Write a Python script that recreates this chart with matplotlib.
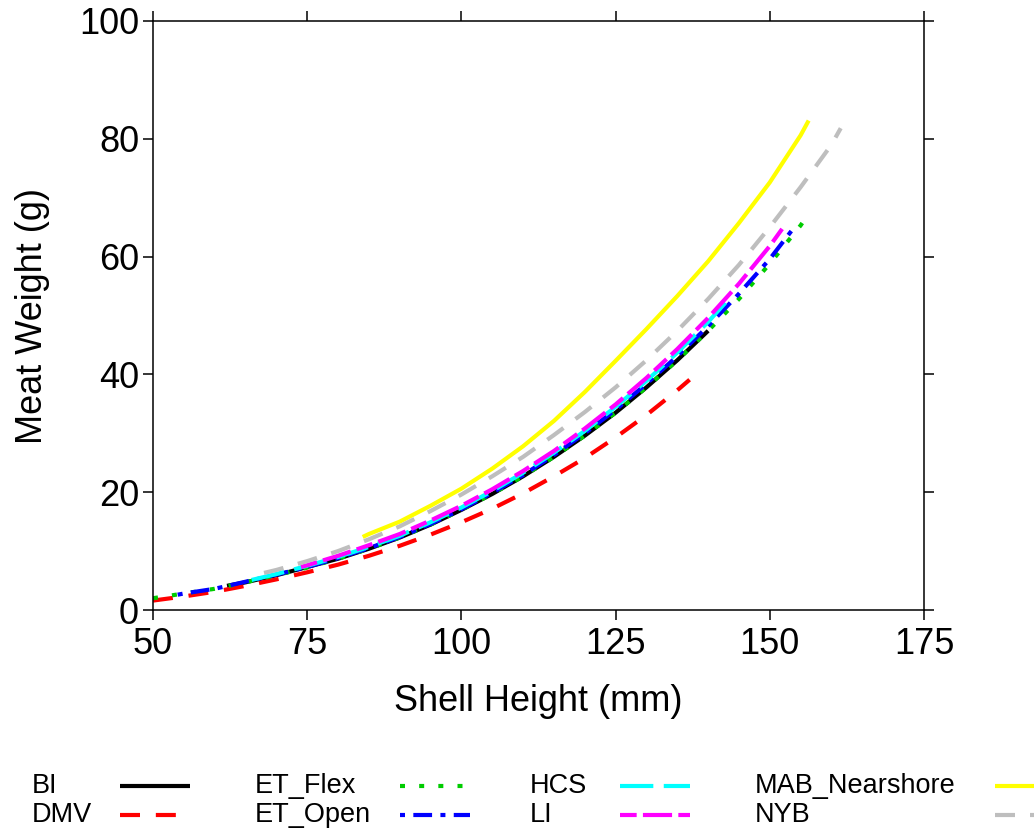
import matplotlib
matplotlib.use("Agg")
import matplotlib.pyplot as plt
from matplotlib.lines import Line2D

plt.rcParams['font.family'] = ['Liberation Sans', 'DejaVu Sans']

# Shell height (mm) / meat weight (g) curves by region
bi_h = [62, 65, 70, 75, 80, 85, 90, 95, 100, 105, 110, 115, 120, 125, 130, 135, 140]
bi_w = [4.1, 4.7, 5.9, 7.3, 8.7, 10.4, 12.3, 14.5, 17.0, 19.7, 22.7, 26.0, 29.6, 33.5, 37.8, 42.4, 47.4]

dmv_h = [50, 55, 60, 65, 70, 75, 80, 85, 90, 95, 100, 105, 110, 115, 120, 125, 130, 135, 137]
dmv_w = [1.6, 2.3, 3.1, 4.1, 5.2, 6.4, 7.7, 9.2, 10.9, 12.8, 14.9, 17.2, 19.8, 22.7, 25.8, 29.3, 33.1, 37.3, 39.1]

etf_h = [50, 55, 60, 65, 70, 75, 80, 85, 90, 95, 100, 105, 110, 115, 120, 125, 130, 135, 140, 145, 150, 155, 156.5]
etf_w = [2.0, 2.8, 3.6, 4.7, 5.9, 7.2, 8.7, 10.4, 12.3, 14.5, 17.0, 19.7, 22.7, 26.0, 29.6, 33.5, 37.8, 42.4, 47.4, 52.8, 58.8, 65.3, 67.6]

eto_h = [54, 55, 60, 65, 70, 75, 80, 85, 90, 95, 100, 105, 110, 115, 120, 125, 130, 135, 140, 145, 150, 154.2]
eto_w = [2.6, 2.8, 3.6, 4.8, 6.0, 7.3, 8.8, 10.5, 12.4, 14.6, 17.1, 19.9, 22.9, 26.3, 30.0, 34.0, 38.4, 43.1, 48.2, 53.7, 59.6, 65.3]

hcs_h = [66, 70, 75, 80, 85, 90, 95, 100, 105, 110, 115, 120, 125, 130, 135, 140, 143]
hcs_w = [5.1, 6.1, 7.5, 9.0, 10.7, 12.6, 14.9, 17.4, 20.2, 23.3, 26.7, 30.4, 34.5, 38.9, 43.7, 48.9, 52.4]

li_h = [74, 75, 80, 85, 90, 95, 100, 105, 110, 115, 120, 125, 130, 135, 140, 145, 150, 152]
li_w = [7.3, 7.6, 9.2, 11.0, 12.9, 15.2, 17.7, 20.5, 23.6, 27.0, 30.8, 34.9, 39.4, 44.3, 49.6, 55.4, 61.8, 64.7]

mab_h = [84, 85, 90, 95, 100, 105, 110, 115, 120, 125, 130, 135, 140, 145, 150, 155, 156.3]
mab_w = [12.4, 12.9, 15.0, 17.7, 20.6, 24.0, 27.8, 32.1, 37.0, 42.3, 47.7, 53.3, 59.2, 65.7, 72.6, 80.6, 83.1]

nyb_h = [68, 70, 75, 80, 85, 90, 95, 100, 105, 110, 115, 120, 125, 130, 135, 140, 145, 150, 155, 160, 161.5]
nyb_w = [6.3, 6.8, 8.3, 10.0, 12.0, 14.2, 16.8, 19.6, 22.7, 26.0, 29.7, 33.6, 37.8, 42.4, 47.4, 52.8, 58.6, 65.0, 71.8, 79.0, 81.8]

series = [
    ("BI", bi_h, bi_w, "black", None),
    ("DMV", dmv_h, dmv_w, "red", (4.8, 3.8)),
    ("ET_Flex", etf_h, etf_w, "#00cc00", (1.2, 3.4)),
    ("ET_Open", eto_h, eto_w, "blue", (1.2, 2.0, 4.5, 2.0)),
    ("HCS", hcs_h, hcs_w, "cyan", (8.0, 2.5)),
    ("LI", li_h, li_w, "magenta", (4.0, 1.5, 7.0, 1.5)),
    ("MAB_Nearshore", mab_h, mab_w, "yellow", None),
    ("NYB", nyb_h, nyb_w, "#bebebe", (4.8, 3.6)),
]

fig = plt.figure(figsize=(10.34, 8.36), dpi=100)
ax = fig.add_axes([153 / 1034, 226 / 836, 771 / 1034, 589 / 836])

for name, h, w, col, dash in series:
    ln, = ax.plot(h, w, color=col, lw=3, solid_capstyle='butt', dash_capstyle='butt')
    if dash is not None:
        ln.set_dashes(dash)

ax.set_xlim(50, 175)
ax.set_ylim(0, 100)
ax.set_xticks([50, 75, 100, 125, 150, 175])
ax.set_yticks([0, 20, 40, 60, 80, 100])
ax.tick_params(direction='out', length=7, width=1.1, labelsize=26,
               top=True, right=True, pad=3)
ax.tick_params(axis='x', pad=5)
for sp in ax.spines.values():
    sp.set_linewidth(1.1)

ax.set_xlabel("Shell Height (mm)", fontsize=26, labelpad=16)
ax.set_ylabel("Meat Weight (g)", fontsize=26, labelpad=21)

# legend below the plot, text first then line sample
col_text_x = [32, 255, 530, 755]
col_line_x = [120, 400, 620, 995]
row_y = [786, 815]
for i, (name, h, w, col, dash) in enumerate(series):
    c, r = divmod(i, 2)
    y = 1 - row_y[r] / 836
    fig.text(col_text_x[c] / 1034, y, name, fontsize=19.5, va='center', ha='left')
    ln = Line2D([col_line_x[c] / 1034, (col_line_x[c] + 70) / 1034], [y, y],
                transform=fig.transFigure, color=col, lw=3,
                solid_capstyle='butt', dash_capstyle='butt')
    if dash is not None:
        ln.set_dashes(dash)
    fig.add_artist(ln)

fig.savefig("out.png", dpi=100)
